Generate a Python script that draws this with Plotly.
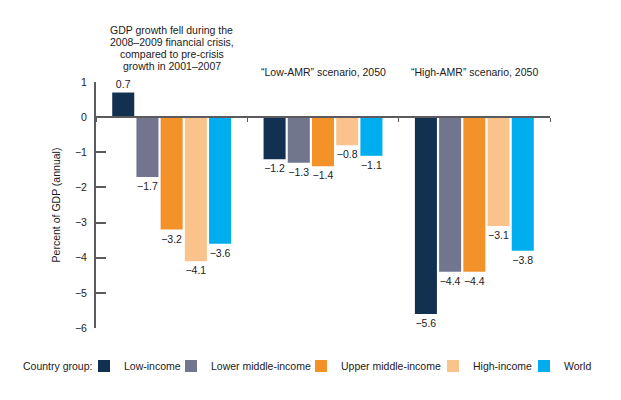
import plotly.graph_objects as go

# ---- data ----
groups = ["crisis", "low_amr", "high_amr"]
series_names = ["Low-income", "Lower middle-income", "Upper middle-income", "High-income", "World"]
low_income = [0.7, -1.2, -5.6]
lower_middle = [-1.7, -1.3, -4.4]
upper_middle = [-3.2, -1.4, -4.4]
high_income = [-4.1, -0.8, -3.1]
world = [-3.6, -1.1, -3.8]
y_ticks = [1, 0, -1, -2, -3, -4, -5, -6]

series_values = [low_income, lower_middle, upper_middle, high_income, world]
colors = ["#12304f", "#72758e", "#f39229", "#fac38c", "#00adef"]
legend_widths = [42, 85, 87, 46, 30]

FONT = "Liberation Sans, Arial, Helvetica, sans-serif"
TXT = "#1c1a1b"
AX = "#5b5b5f"


def fmt(v):
    s = f"{abs(v):.1f}"
    return ("\u2212" + s) if v < 0 else s


fig = go.Figure()
for name, vals, col, lw in zip(series_names, series_values, colors, legend_widths):
    fig.add_trace(go.Bar(
        name=name, x=groups, y=vals, marker=dict(color=col, line=dict(width=0)),
        text=[fmt(v) for v in vals], textposition="outside", constraintext="none",
        textfont=dict(size=10.5, color=TXT, family=FONT), cliponaxis=False,
        legendwidth=lw, hoverinfo="skip",
    ))

# layout geometry (reference pixel coords; page has 8px body margin)
OFF = 8
plot_left, plot_right, plot_top, plot_bottom = 96, 550, 82, 328
pw = plot_right - plot_left
ph = plot_bottom - plot_top


def py(p):
    return (plot_bottom - p) / ph


def px(p):
    return (p - plot_left) / pw


title1 = ["GDP growth fell during the", "2008\u20132009 financial crisis,",
          "compared to pre-crisis", "growth in 2001\u20132007"]

annos = []
for i, line in enumerate(title1):
    annos.append(dict(x=groups[0], y=py(30 + 12 * i), xref="x", yref="paper", text=line,
                      showarrow=False, yanchor="middle", xanchor="center",
                      font=dict(size=10.5, color=TXT, family=FONT)))
annos.append(dict(x=groups[1], y=py(72), xref="x", yref="paper",
                  text="\u201cLow-AMR\u201d scenario, 2050", showarrow=False,
                  yanchor="middle", font=dict(size=10.5, color=TXT, family=FONT)))
annos.append(dict(x=groups[2], y=py(72), xref="x", yref="paper",
                  text="\u201cHigh-AMR\u201d scenario, 2050", showarrow=False,
                  yanchor="middle", font=dict(size=10.5, color=TXT, family=FONT)))
annos.append(dict(x=px(21), y=py(366), xref="paper", yref="paper",
                  text="Country group:", showarrow=False, xanchor="left",
                  yanchor="middle", font=dict(size=10.5, color=TXT, family=FONT)))

fig.update_layout(
    width=621 - OFF, height=400 - OFF,
    margin=dict(l=plot_left - OFF, r=621 - plot_right, t=plot_top - OFF,
                b=400 - plot_bottom, autoexpand=False),
    paper_bgcolor="white", plot_bgcolor="white",
    font=dict(family=FONT, size=10.5, color=TXT),
    barmode="group", bargap=0.2, bargroupgap=0.09,
    showlegend=True,
    legend=dict(orientation="h", x=px(84), xanchor="left", y=py(366), yanchor="middle",
                font=dict(size=10.5, color=TXT), bgcolor="rgba(0,0,0,0)", traceorder="normal"),
    annotations=annos,
    xaxis=dict(type="category", range=[-0.5, 2.5], showticklabels=False,
               anchor="free", position=6 / 7, showline=True, linecolor=AX, linewidth=2,
               ticks="outside", tickson="boundaries", ticklen=4, tickwidth=1, tickcolor=AX,
               showgrid=False, zeroline=False, fixedrange=True),
    yaxis=dict(range=[-6, 1], tickvals=y_ticks, showline=True, linecolor=AX, linewidth=2,
               ticks="inside", ticklen=10, tickwidth=1.5, tickcolor=AX,
               ticklabelstandoff=5, tickfont=dict(size=10.5, color=TXT),
               showgrid=False, zeroline=False, fixedrange=True,
               title=dict(text="Percent of GDP (annual)", standoff=12,
                          font=dict(size=10.5, color=TXT))),
)

fig.write_html("out.html")
